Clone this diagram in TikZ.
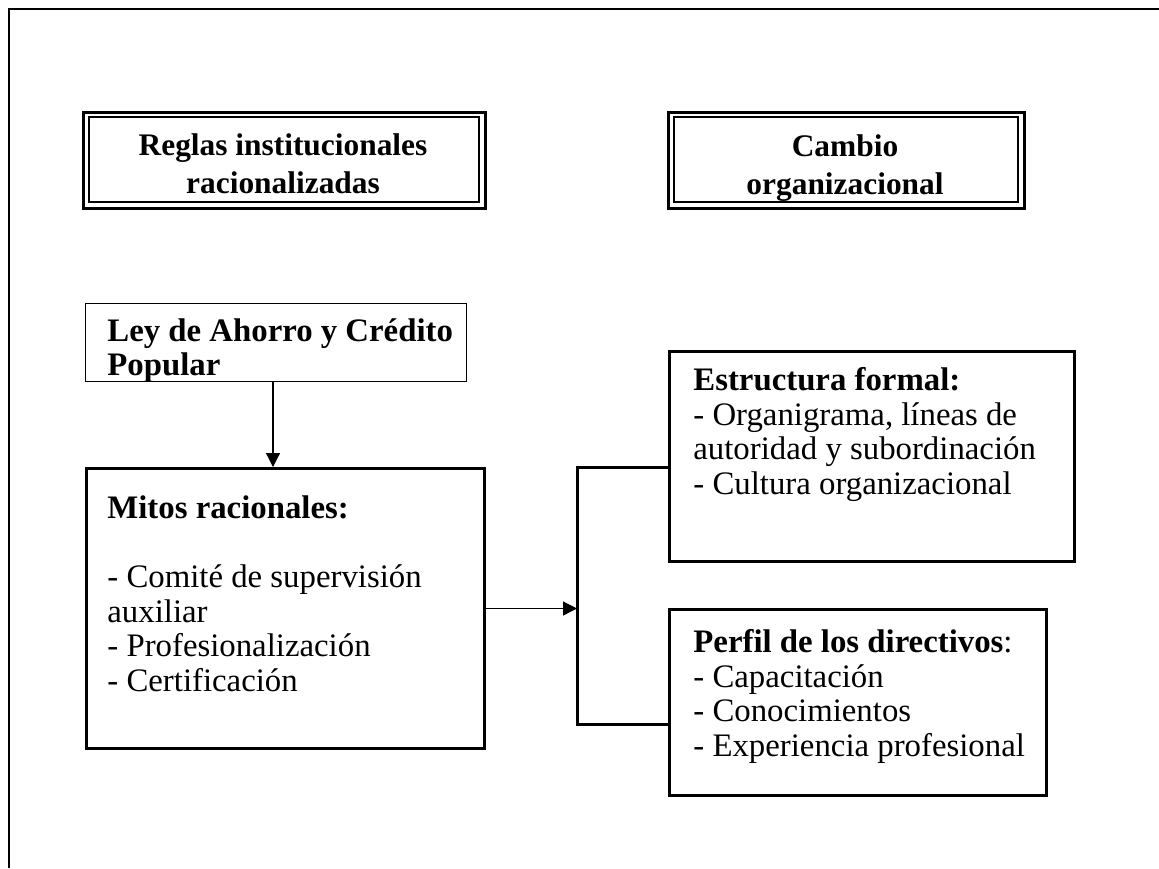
\documentclass[tikz,border=0pt]{standalone}
\usepackage{fontspec}
\setmainfont{Liberation Serif}
\usetikzlibrary{arrows.meta,calc}
\begin{document}
\begin{tikzpicture}[x=0.5pt,y=-0.5pt,
  box/.style={draw,rectangle,inner sep=0pt,line width=1.5pt,anchor=north west},
  thinbox/.style={draw,rectangle,inner sep=0pt,line width=0.6pt,anchor=north west},
  dbl/.style={draw,rectangle,inner sep=0pt,line width=1.5pt,anchor=north west},
  dblin/.style={draw,rectangle,inner sep=0pt,line width=0.9pt,anchor=north west},
  txt/.style={inner sep=0pt,anchor=north west,align=left,font=\fontsize{16.4}{17.25}\selectfont},
  ttl/.style={inner sep=0pt,anchor=north,align=center,font=\fontsize{15.7}{19}\selectfont\bfseries},
  arr/.style={line width=0.6pt,-{Triangle[length=7pt,width=7pt]}},
  brk/.style={line width=1.5pt}]
\useasboundingbox (0,0) rectangle (1159,868);
% outer frame (open at right and bottom)
\draw[line width=1.3pt] (9,868) -- (9,9) -- (1159,9);
% title boxes
\node[dbl,minimum width=402pt*0.5,minimum height=96pt*0.5] (reglas) at (82,111) {};
\node[dblin,minimum width=390pt*0.5,minimum height=85pt*0.5] (reglasin) at (88,116) {};
\node[ttl] (reglast) at (283,128) {\strut Reglas institucionales\\racionalizadas};
\node[dbl,minimum width=356pt*0.5,minimum height=96pt*0.5] (cambio) at (667,111) {};
\node[dblin,minimum width=344pt*0.5,minimum height=85pt*0.5] (cambioin) at (673,116) {};
\node[ttl] (cambiot) at (845,129) {\strut Cambio\\organizacional};
% Ley box
\node[thinbox,minimum width=381pt*0.5,minimum height=78pt*0.5] (ley) at (85,303) {};
\node[txt,font=\fontsize{16.4}{16}\selectfont] (leyt) at (107,318) {\strut\textbf{Ley de Ahorro y Crédito}\\\textbf{Popular}};
% Mitos box
\node[box,minimum width=398pt*0.5,minimum height=280pt*0.5] (mitos) at (85,467) {};
\node[txt] (mitost) at (107,494) {\strut\textbf{Mitos racionales:}\\[17.25pt]- Comité de supervisión\\auxiliar\\- Profesionalización\\- Certificación};
% Estructura box
\node[box,minimum width=405pt*0.5,minimum height=210pt*0.5] (estr) at (668,350) {};
\node[txt] (estrt) at (693,366) {\strut\textbf{Estructura formal:}\\- Organigrama, líneas de\\autoridad y subordinación\\- Cultura organizacional};
% Perfil box
\node[box,minimum width=377pt*0.5,minimum height=186pt*0.5] (perfil) at (668,608) {};
\node[txt] (perfilt) at (693,628) {\strut\textbf{Perfil de los directivos}:\\- Capacitación\\- Conocimientos\\- Experiencia profesional};
% connectors
\coordinate (ax) at (273,0);
\draw[arr] (ax |- ley.south) -- (ax |- mitos.north);
\coordinate (bt) at (577,467);
\coordinate (bb) at (577,724);
\draw[brk] (bt -| estr.west) -- (bt) -- (bb) -- (bb -| perfil.west);
\draw[arr] (mitos.east) -- (mitos.east -| bt);
\end{tikzpicture}
\end{document}
